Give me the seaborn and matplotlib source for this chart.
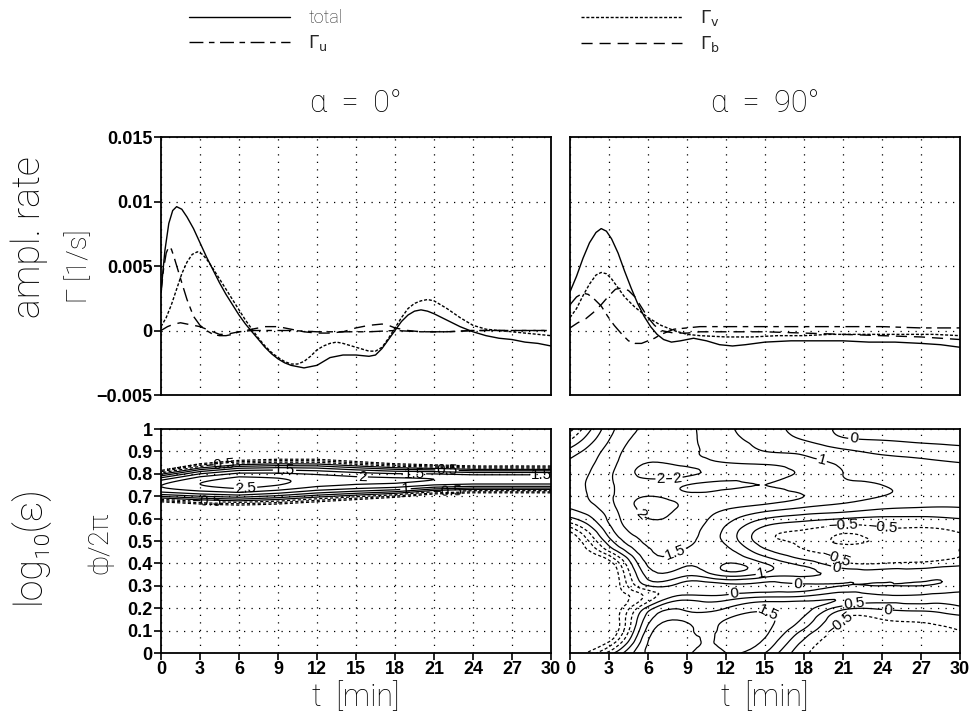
import numpy as np
import pandas as pd
import matplotlib
matplotlib.use("Agg")
import matplotlib.pyplot as plt
import matplotlib.tri as mtri
from matplotlib.lines import Line2D
from matplotlib import font_manager as fm
from matplotlib.ticker import FixedLocator, FixedFormatter
import seaborn as sns

# ---------------- data: amplification rates (alpha = 0 deg) ----------------
L_TOTAL_T = [0, 0.3, 0.6, 0.9, 1.2, 1.6, 2.0, 2.5, 3.0, 3.5, 4.0, 4.5, 5.0, 5.5, 6.0, 6.5, 7.0, 7.5,
             8.0, 8.5, 9.0, 9.5, 10.0, 10.5, 11.0, 11.5, 12.0, 12.5, 13.0, 13.5, 14.0, 15.0, 16.0,
             16.5, 17.0, 17.5, 18.0, 18.5, 19.0, 19.5, 20.0, 20.5, 21.0, 22.0, 23.0, 24.0, 25.0,
             26.0, 27.0, 28.0, 29.0, 30.0]
L_TOTAL = [0.0030, 0.0062, 0.0083, 0.0093, 0.0096, 0.0094, 0.0088, 0.0079, 0.0068, 0.0057, 0.0047,
           0.0037, 0.0028, 0.0020, 0.0012, 0.0005, -0.0001, -0.0007, -0.0013, -0.0018, -0.0022,
           -0.0025, -0.0027, -0.0028, -0.0029, -0.0028, -0.0027, -0.0024, -0.0021, -0.0020, -0.0019,
           -0.0019, -0.0020, -0.0019, -0.0014, -0.0007, 0.0000, 0.0007, 0.0012, 0.0015, 0.0016,
           0.0015, 0.0013, 0.0008, 0.0003, -0.0001, -0.0004, -0.0006, -0.0007, -0.0009, -0.0010, -0.0012]

L_GV_T = [0, 0.4, 0.8, 1.2, 1.6, 2.0, 2.4, 2.8, 3.2, 3.6, 4.0, 4.5, 5.0, 5.5, 6.0, 6.5, 7.0, 7.5, 8.0,
          8.5, 9.0, 9.5, 10.0, 10.5, 11.0, 11.5, 12.0, 12.5, 13.0, 13.5, 14.0, 15.0, 16.0, 16.5, 17.0,
          17.5, 18.0, 18.5, 19.0, 19.5, 20.0, 20.5, 21.0, 22.0, 23.0, 24.0, 25.0, 26.0, 27.0, 28.0,
          29.0, 30.0]
L_GV = [0.0003, 0.0010, 0.0020, 0.0032, 0.0044, 0.0053, 0.0059, 0.0061, 0.0059, 0.0054, 0.0048,
        0.0040, 0.0032, 0.0024, 0.0016, 0.0008, 0.0001, -0.0006, -0.0012, -0.0017, -0.0021, -0.0024,
        -0.0026, -0.0026, -0.0024, -0.0020, -0.0015, -0.0012, -0.0010, -0.0009, -0.0010, -0.0013,
        -0.0016, -0.0016, -0.0013, -0.0006, 0.0002, 0.0010, 0.0017, 0.0021, 0.0023, 0.0024, 0.0023,
        0.0017, 0.0010, 0.0004, 0.0001, 0.0000, -0.0001, -0.0002, -0.0003, -0.0004]

L_GU_T = [0, 0.2, 0.4, 0.6, 0.8, 1.0, 1.3, 1.6, 2.0, 2.5, 3.0, 3.5, 4.0, 4.5, 5.0, 5.5, 6.0, 7.0, 8.0,
          9.0, 10.0, 12.0, 14.0, 16.0, 18.0, 20.0, 22.0, 24.0, 26.0, 28.0, 30.0]
L_GU = [0.0029, 0.0048, 0.0060, 0.0065, 0.0063, 0.0057, 0.0047, 0.0037, 0.0024, 0.0011, 0.0004,
        0.0000, -0.0003, -0.0004, -0.0004, -0.0003, -0.0001, 0.0000, 0.0000, 0.0000, 0.0000,
        -0.0001, -0.0001, -0.0001, 0.0000, -0.0001, -0.0001, 0.0000, 0.0000, 0.0000, 0.0000]

L_GB_T = [0, 0.5, 1.0, 1.5, 2.0, 2.5, 3.0, 3.5, 4.0, 4.5, 5.0, 5.5, 6.0, 7.0, 8.0, 9.0, 10.0, 11.0,
          12.0, 13.0, 14.0, 15.0, 16.0, 17.0, 17.5, 18.0, 19.0, 20.0, 21.0, 22.0, 24.0, 26.0, 28.0, 30.0]
L_GB = [0.0000, 0.0003, 0.0005, 0.0006, 0.0005, 0.0004, 0.0003, 0.0001, -0.0001, -0.0003, -0.0003,
        -0.0002, -0.0001, 0.0001, 0.0003, 0.0003, 0.0001, -0.0001, -0.0002, -0.0002, -0.0001, 0.0002,
        0.0004, 0.0005, 0.0004, 0.0002, 0.0000, -0.0001, -0.0001, -0.0001, 0.0000, 0.0000, 0.0000, 0.0000]

# ---------------- data: amplification rates (alpha = 90 deg) ----------------
R_TOTAL_T = [0, 0.5, 1.0, 1.5, 2.0, 2.4, 2.8, 3.2, 3.7, 4.2, 4.7, 5.2, 5.7, 6.2, 6.7, 7.2, 7.8, 8.5,
             9.5, 10.5, 11.5, 12.5, 13.5, 15, 17, 19, 21, 23, 25, 27, 28.5, 30]
R_TOTAL = [0.0030, 0.0042, 0.0056, 0.0068, 0.0076, 0.0079, 0.0077, 0.0071, 0.0060, 0.0046, 0.0033,
           0.0021, 0.0011, 0.0003, -0.0003, -0.0007, -0.0009, -0.0008, -0.0006, -0.0008, -0.0011,
           -0.0012, -0.0011, -0.0009, -0.0008, -0.0008, -0.0008, -0.0009, -0.0009, -0.0010, -0.0011, -0.0013]

R_GV_T = [0, 0.5, 1.0, 1.5, 2.0, 2.4, 2.8, 3.2, 3.7, 4.2, 5.0, 6.0, 7.0, 8.0, 9.0, 10.0, 12, 14, 16,
          18, 20, 22, 24, 26, 28, 30]
R_GV = [0.0010, 0.0017, 0.0027, 0.0036, 0.0043, 0.0045, 0.0044, 0.0040, 0.0033, 0.0026, 0.0018,
        0.0010, 0.0004, 0.0000, -0.0003, -0.0004, -0.0005, -0.0005, -0.0004, -0.0004, -0.0003,
        -0.0003, -0.0003, -0.0003, -0.0003, -0.0004]

R_GU_T = [0, 0.5, 1.0, 1.4, 1.9, 2.4, 2.9, 3.4, 4.0, 4.5, 5.0, 5.5, 6.0, 6.5, 7.0, 7.5, 8.0, 9.0,
          10.0, 12, 15, 18, 21, 24, 27, 30]
R_GU = [0.0020, 0.0026, 0.0029, 0.0028, 0.0024, 0.0019, 0.0011, 0.0004, -0.0003, -0.0008, -0.0010,
        -0.0010, -0.0008, -0.0006, -0.0003, -0.0001, 0.0001, 0.0002, 0.0003, 0.0003, 0.0003, 0.0003,
        0.0003, 0.0003, 0.0002, 0.0002]

R_GB_T = [0, 0.6, 1.2, 1.8, 2.4, 3.0, 3.5, 4.0, 4.5, 5.0, 5.5, 6.0, 6.5, 7.0, 8.0, 9, 10, 12, 15, 18,
          21, 24, 27, 30]
R_GB = [0.0002, 0.0006, 0.0009, 0.0014, 0.0020, 0.0027, 0.0032, 0.0033, 0.0031, 0.0026, 0.0018,
        0.0010, 0.0004, 0.0000, -0.0002, -0.0002, -0.0001, -0.0001, -0.0001, -0.0002, -0.0003,
        -0.0004, -0.0005, -0.0007]

# ---------------- data: log10(eps) field, alpha = 0 (ridge read per 3 min) ----------------
RIDGE_T = [0, 3, 6, 9, 12, 15, 18, 21, 24, 27, 30]
RIDGE_CENTER = [0.745, 0.755, 0.76, 0.765, 0.77, 0.77, 0.77, 0.775, 0.775, 0.775, 0.775]
RIDGE_PEAK = [2.0, 2.5, 2.8, 2.6, 2.3, 2.15, 2.1, 2.0, 1.9, 1.9, 1.9]
RIDGE_HALFWIDTH = [0.07, 0.09, 0.10, 0.10, 0.095, 0.085, 0.075, 0.065, 0.06, 0.06, 0.06]

# ---------------- data: log10(eps) field, alpha = 90 (grid t x phi) ----------------
GRID_T = [0, 3, 6, 9, 12, 15, 18, 21, 24, 27, 30]
GRID_PHI = [0.00, 0.05, 0.10, 0.15, 0.20, 0.25, 0.30, 0.35, 0.40, 0.45, 0.50,
            0.55, 0.60, 0.65, 0.70, 0.75, 0.80, 0.85, 0.90, 0.95, 1.00]
COL_T0 = [-2.2, -2.2, -2.2, -2.2, -2.2, -2.2, -2.2, -2.2, -2.2, -2.2, -2.2, -1.3, -0.1, 0.55, 0.75, 0.8, 0.75, 0.6, 0.2, -0.5, -1.2]
COL_T3 = [-0.3, -1.5, -2.2, -2.2, -2.2, -2.2, -2.2, -2.2, -1.8, -0.6, 0.3, 0.8, 1.1, 1.3, 1.4, 1.4, 1.4, 1.3, 1.2, 1.0, 0.8]
COL_T6 = [1.6, 1.5, 1.2, 0.8, 0.2, -0.8, 0.0, 0.7, 1.1, 1.4, 1.6, 1.8, 2.0, 2.15, 2.0, 1.8, 2.15, 2.0, 1.8, 1.7, 1.6]
COL_T9 = [1.6, 1.7, 1.6, 1.4, 0.9, 0.2, -0.3, 0.6, 1.1, 1.4, 1.6, 1.7, 1.8, 1.9, 1.7, 1.5, 2.1, 1.8, 1.6, 1.6, 1.6]
COL_T12 = [1.5, 1.6, 1.6, 1.5, 1.0, 0.2, -0.2, 1.2, 1.5, 1.2, 0.9, 0.9, 1.2, 1.6, 1.8, 1.4, 1.8, 1.5, 1.3, 1.2, 1.1]
COL_T15 = [1.0, 1.4, 1.6, 1.6, 1.4, 0.5, -0.2, 0.8, 1.0, 0.2, -0.3, -0.2, 0.5, 1.3, 1.7, 1.5, 1.7, 1.4, 1.0, 0.8, 0.7]
COL_T18 = [-0.4, -0.1, 0.4, 0.9, 1.2, 0.6, -0.1, 0.6, 0.3, -0.4, -0.6, -0.5, 0.2, 1.0, 1.5, 1.3, 1.4, 1.2, 0.9, 0.5, 0.3]
COL_T21 = [-0.6, -0.8, -0.7, -0.5, 0.2, 0.9, 0.0, 0.3, -0.4, -0.7, -1.1, -0.8, 0.0, 0.8, 1.2, 1.1, 1.0, 0.9, 0.6, 0.1, -0.1]
COL_T24 = [-0.7, -0.9, -0.8, -0.5, 0.1, 0.6, 0.0, 0.2, -0.5, -0.8, -0.9, -0.6, -0.1, 0.6, 1.0, 1.0, 0.9, 0.7, 0.4, 0.0, -0.3]
COL_T27 = [-0.6, -0.8, -0.7, -0.4, 0.2, 0.6, 0.0, 0.2, -0.4, -0.7, -0.8, -0.6, -0.1, 0.5, 0.9, 0.9, 0.8, 0.6, 0.3, -0.1, -0.4]
COL_T30 = [-0.5, -0.6, -0.5, -0.2, 0.4, 0.7, 0.1, 0.3, -0.2, -0.5, -0.6, -0.4, 0.0, 0.5, 0.8, 0.8, 0.7, 0.5, 0.2, -0.2, -0.5]

LEVELS = [-1.5, -1.0, -0.5, 0.0, 0.5, 1.0, 1.5, 2.0, 2.5]

# where the reference shows contour labels (t, phi)
LABEL_AT_LEFT = [(4.5, 0.84), (9.5, 0.815), (15.5, 0.785), (19.5, 0.80), (22.0, 0.815),
                 (6.5, 0.735), (3.5, 0.675), (18.8, 0.735), (22.0, 0.72), (29.3, 0.80)]
LABEL_AT_RIGHT = [(21.8, 0.95), (19.5, 0.89), (8.2, 0.80), (7.0, 0.75), (5.4, 0.62), (7.7, 0.5),
                  (21.0, 0.556), (24.0, 0.55), (20.8, 0.45), (20.5, 0.39), (14.7, 0.35),
                  (12.6, 0.27), (17.5, 0.30), (21.8, 0.24), (15.3, 0.19), (21.0, 0.12), (24.4, 0.17)]

X_TICKS = [0, 3, 6, 9, 12, 15, 18, 21, 24, 27, 30]
X_TICKLABELS = ["0", "3", "6", "9", "12", "15", "18", "21", "24", "27", "30"]
Y_TICKS_TOP = [-0.005, 0.0, 0.005, 0.01, 0.015]
Y_TICKLABELS_TOP = ["\u22120.005", "0", "0.005", "0.01", "0.015"]
Y_TICKS_BOT = [0.0, 0.1, 0.2, 0.3, 0.4, 0.5, 0.6, 0.7, 0.8, 0.9, 1.0]
Y_TICKLABELS_BOT = ["0", "0.1", "0.2", "0.3", "0.4", "0.5", "0.6", "0.7", "0.8", "0.9", "1"]

SERIES = ["total", "Gu", "Gv", "Gb"]
DASHES = {"total": "", "Gu": (10, 4, 4, 4), "Gv": (2.2, 1.3), "Gb": (8, 5)}

# ---------------- style ----------------
sns.set_theme(style="white")


def pick(fams, **kw):
    for f in fams:
        try:
            fm.findfont(fm.FontProperties(family=f, **kw), fallback_to_default=False)
            return f
        except Exception:
            pass
    return "DejaVu Sans"


TICK_FONT = pick(["Liberation Sans Narrow", "Liberation Sans"])
LABEL_FONT = pick(["Roboto", "Lato", "Open Sans"])
plt.rcParams["font.family"] = [LABEL_FONT, "DejaVu Sans"]
plt.rcParams["axes.edgecolor"] = "black"
plt.rcParams["axes.linewidth"] = 1.3
plt.rcParams["mathtext.fontset"] = "dejavusans"

W, H = 970, 717
fig = plt.figure(figsize=(W / 100, H / 100), dpi=100)


def rect(x0, y0, x1, y1):
    return [x0 / W, 1 - y1 / H, (x1 - x0) / W, (y1 - y0) / H]


ax_tl = fig.add_axes(rect(161, 137, 551, 395))
ax_tr = fig.add_axes(rect(570, 137, 960, 395))
ax_bl = fig.add_axes(rect(161, 429, 551, 653))
ax_br = fig.add_axes(rect(570, 429, 960, 653))


def long_df(pairs):
    frames = []
    for name, (t, v) in zip(SERIES, pairs):
        frames.append(pd.DataFrame({"t": t, "rate": v, "series": name}))
    return pd.concat(frames, ignore_index=True)


df_l = long_df([(L_TOTAL_T, L_TOTAL), (L_GU_T, L_GU), (L_GV_T, L_GV), (L_GB_T, L_GB)])
df_r = long_df([(R_TOTAL_T, R_TOTAL), (R_GU_T, R_GU), (R_GV_T, R_GV), (R_GB_T, R_GB)])

for ax, df in [(ax_tl, df_l), (ax_tr, df_r)]:
    sns.lineplot(data=df, x="t", y="rate", style="series", style_order=SERIES, dashes=DASHES,
                 color="black", linewidth=1.0, estimator=None, legend=False, ax=ax)
    ax.set_ylim(-0.005, 0.015)

# ---- contour alpha = 0 ----
tf = np.linspace(0, 30, 301)
pf = np.linspace(0, 1, 501)
TT, PP = np.meshgrid(tf, pf)
cen = np.interp(tf, RIDGE_T, RIDGE_CENTER)[None, :]
pk = np.interp(tf, RIDGE_T, RIDGE_PEAK)[None, :]
hw = np.interp(tf, RIDGE_T, RIDGE_HALFWIDTH)[None, :]
Z_left = pk - (pk + 1.5) * ((PP - cen) / hw) ** 2
cs_l = ax_bl.contour(TT, PP, Z_left, levels=LEVELS, colors="black", linewidths=0.9,
                     negative_linestyles=(0, (2.5, 1.8)))

# ---- contour alpha = 90 ----
Zg = np.array([COL_T0, COL_T3, COL_T6, COL_T9, COL_T12, COL_T15, COL_T18, COL_T21,
               COL_T24, COL_T27, COL_T30]).T
gt, gp = np.meshgrid(GRID_T, GRID_PHI)
nr, nc = Zg.shape
tris = []
for i in range(nr - 1):
    for j in range(nc - 1):
        a = i * nc + j
        b = a + 1
        c = a + nc
        d = c + 1
        tris.append([a, b, d])
        tris.append([a, d, c])
tri = mtri.Triangulation(gt.ravel(), gp.ravel(), np.array(tris))
refiner = mtri.UniformTriRefiner(tri)
tri_f, z_f = refiner.refine_field(Zg.ravel(), subdiv=3)
cs_r = ax_br.tricontour(tri_f, z_f, levels=LEVELS, colors="black", linewidths=0.9,
                        negative_linestyles=(0, (2.5, 1.8)))


def fmt(v):
    return f"{v:g}".replace("-", "\u2212")


for ax, cs, where in [(ax_bl, cs_l, LABEL_AT_LEFT), (ax_br, cs_r, LABEL_AT_RIGHT)]:
    ax.set_xlim(0, 30)
    ax.set_ylim(0, 1)
    lbl = ax.clabel(cs, fmt=fmt, fontsize=11, inline=True, inline_spacing=1, manual=where)
    for tx in lbl:
        tx.set_fontfamily(["Liberation Sans", "DejaVu Sans"])

# ---- axes formatting ----
for ax in [ax_tl, ax_tr, ax_bl, ax_br]:
    ax.set_xlim(0, 30)
    ax.xaxis.set_major_locator(FixedLocator(X_TICKS))
    ax.grid(True, which="major", linestyle=(0, (1, 5)), color="black", linewidth=0.9)
    ax.set_xlabel("")
    ax.set_ylabel("")
    for s in ax.spines.values():
        s.set_color("black")
        s.set_linewidth(1.3)

for ax in [ax_tl, ax_tr]:
    ax.yaxis.set_major_locator(FixedLocator(Y_TICKS_TOP))
for ax in [ax_bl, ax_br]:
    ax.yaxis.set_major_locator(FixedLocator(Y_TICKS_BOT))

ax_tl.yaxis.set_major_formatter(FixedFormatter(Y_TICKLABELS_TOP))
ax_bl.yaxis.set_major_formatter(FixedFormatter(Y_TICKLABELS_BOT))
ax_bl.xaxis.set_major_formatter(FixedFormatter(X_TICKLABELS))
ax_br.xaxis.set_major_formatter(FixedFormatter(X_TICKLABELS))

tick_kw = dict(direction="out", length=5, width=1.2, color="black", labelcolor="black", pad=1)
ax_tl.tick_params(axis="y", left=True, labelleft=True, **tick_kw)
ax_tl.tick_params(axis="x", bottom=False, labelbottom=False)
ax_tr.tick_params(axis="both", left=False, labelleft=False, bottom=False, labelbottom=False)
ax_bl.tick_params(axis="both", left=True, bottom=True, labelleft=True, labelbottom=True, **tick_kw)
ax_br.tick_params(axis="y", left=False, labelleft=False)
ax_br.tick_params(axis="x", bottom=True, labelbottom=True, **tick_kw)

for ax in [ax_tl, ax_bl, ax_br]:
    for lab in ax.get_xticklabels() + ax.get_yticklabels():
        lab.set_fontfamily(TICK_FONT)
        lab.set_fontweight("bold")
        lab.set_fontsize(13)

# ---- texts ----
lw_kw = dict(fontweight="light", color="black")
fig.text(29 / W, 1 - 237 / H, "ampl. rate", rotation=90, ha="center", va="center", fontsize=27, **lw_kw)
fig.text(80 / W, 1 - 266 / H, "\u0393 [1/s]", rotation=90, ha="center", va="center", fontsize=20, **lw_kw)
fig.text(29 / W, 1 - 545 / H, "log\u2081\u2080(\u03b5)", rotation=90,
         ha="center", va="center", fontsize=27, **lw_kw)
fig.text(100 / W, 1 - 543 / H, "\u03d5/2\u03c0", rotation=90, ha="center", va="center", fontsize=20, **lw_kw)
fig.text(356 / W, 1 - 103 / H, "\u03b1  =  0\u00b0", ha="center", va="center", fontsize=22, **lw_kw)
fig.text(765 / W, 1 - 103 / H, "\u03b1  =  90\u00b0", ha="center", va="center", fontsize=22, **lw_kw)
fig.text(356 / W, 1 - 697 / H, "t  [min]", ha="center", va="center", fontsize=22, **lw_kw)
fig.text(765 / W, 1 - 697 / H, "t  [min]", ha="center", va="center", fontsize=22, **lw_kw)

# ---- legend ----
def handle(name):
    h = Line2D([], [], color="black", linewidth=1.0)
    if DASHES[name]:
        h.set_dashes(DASHES[name])
    return h

leg_kw = dict(frameon=False, handlelength=5.6, fontsize=13, labelspacing=0.35, handletextpad=1.0,
              borderpad=0, borderaxespad=0, loc="center left")
leg1 = fig.legend([handle("total"), handle("Gu")], ["total", r"$\Gamma_{\rm u}$"],
                  bbox_to_anchor=(189 / W, 1 - 31 / H), **leg_kw)
leg2 = fig.legend([handle("Gv"), handle("Gb")], [r"$\Gamma_{\rm v}$", r"$\Gamma_{\rm b}$"],
                  bbox_to_anchor=(581 / W, 1 - 31 / H), **leg_kw)
for lg in [leg1, leg2]:
    for tx in lg.get_texts():
        tx.set_fontweight("light")

fig.savefig("out.png", dpi=100)
